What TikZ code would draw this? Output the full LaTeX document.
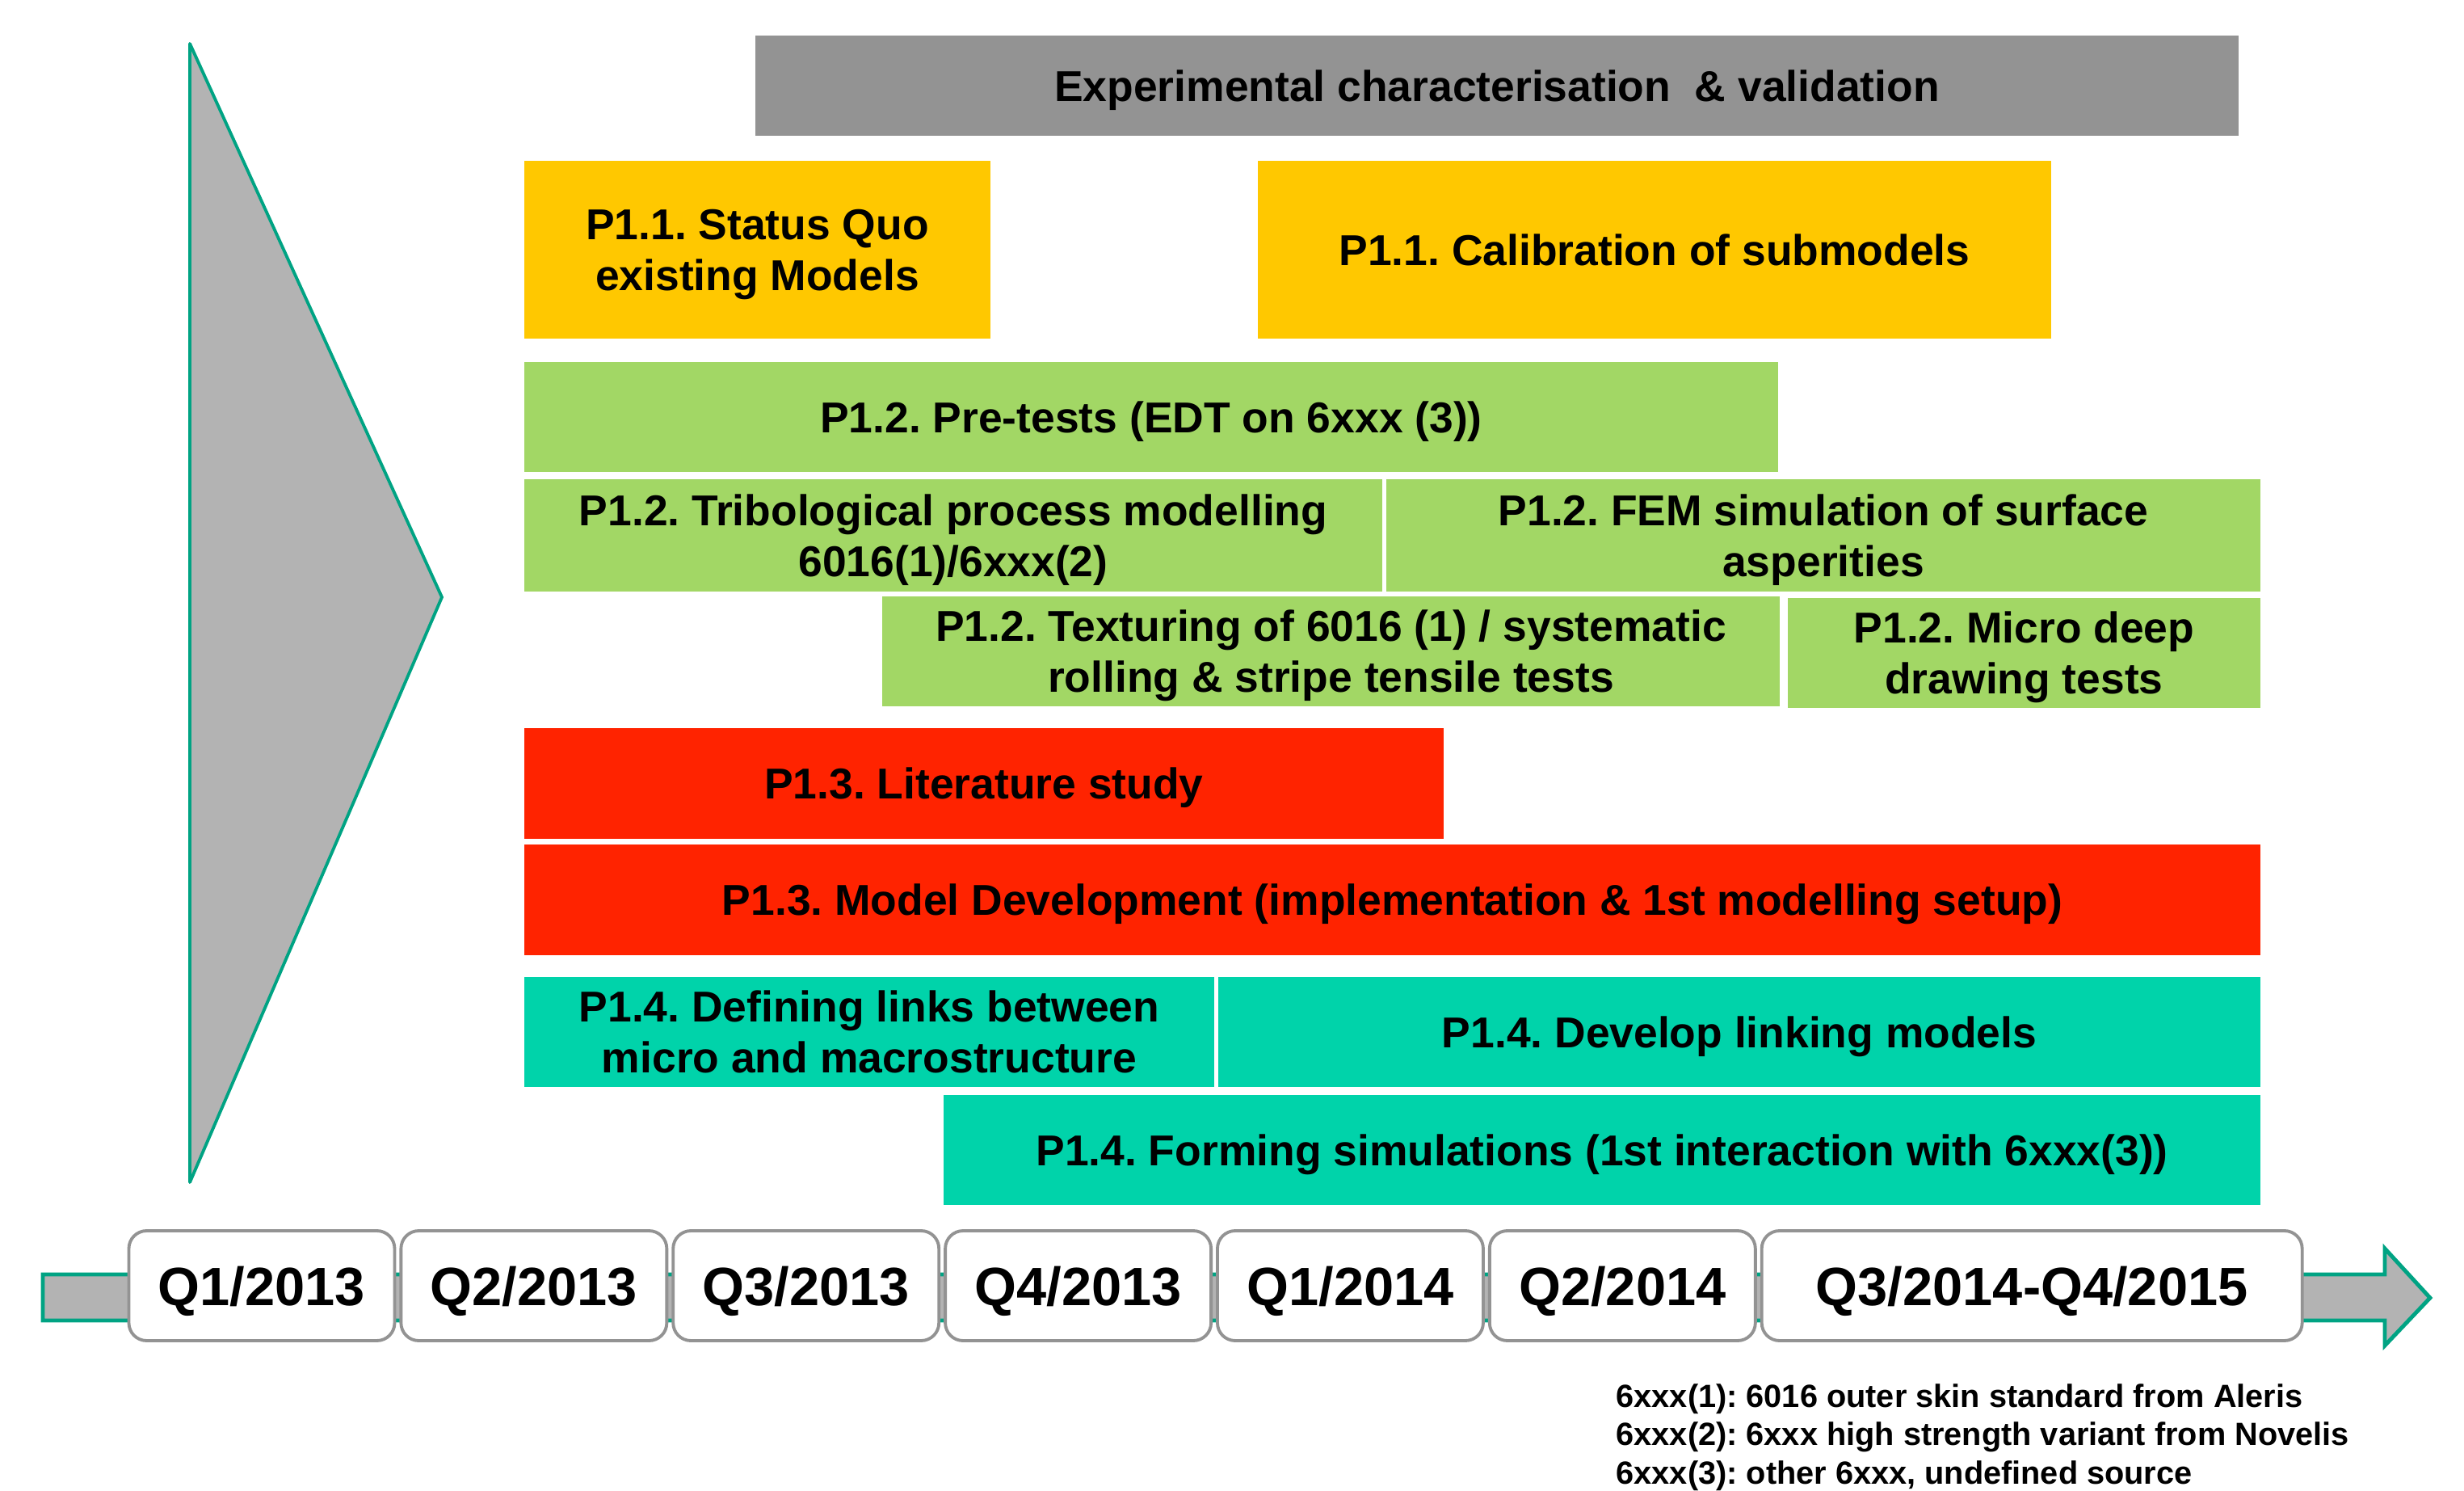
\documentclass[tikz,border=0pt]{standalone}
\usepackage{fontspec}
\setmainfont{Liberation Sans}
\frenchspacing
\usetikzlibrary{positioning}
\definecolor{barGrey}{HTML}{939393}
\definecolor{taskYellow}{HTML}{FFC800}
\definecolor{taskGreen}{HTML}{A2D765}
\definecolor{taskRed}{HTML}{FF2300}
\definecolor{taskTeal}{HTML}{00D3AA}
\definecolor{arrowGrey}{HTML}{B3B3B3}
\definecolor{edgeTeal}{HTML}{00A383}
\begin{document}
\begin{tikzpicture}[
    task/.style={rectangle,draw=white,line width=0.8pt,inner sep=0pt,align=center,text depth=-6.2pt,
      font=\fontsize{15.2}{18}\selectfont\bfseries},
    quarter/.style={rectangle,rounded corners=0.22cm,draw=barGrey,line width=1.1pt,fill=white,
      minimum width=3.29cm,minimum height=1.36cm,inner sep=0pt,text depth=-8.7pt,
      font=\fontsize{19}{22}\selectfont\bfseries}
  ]
    \useasboundingbox (0,0) rectangle (30.5,-18.45);
    \draw[edgeTeal,fill=arrowGrey,line width=1.1pt,line join=round]
      (2.35,-0.54) -- (5.47,-7.39) -- (2.35,-14.63) -- cycle;
    \draw[edgeTeal,fill=arrowGrey,line width=1.4pt]
      (0.53,-15.77) -- (29.52,-15.77) -- (29.52,-15.45) -- (30.08,-16.06)
      -- (29.52,-16.65) -- (29.52,-16.34) -- (0.53,-16.34) -- cycle;
    \node[task,fill=barGrey,minimum width=18.38cm,minimum height=1.26cm] (expval) at (18.53,-1.06)
      {Experimental characterisation \ \& validation};
    \node[task,fill=taskYellow,minimum width=5.79cm,minimum height=2.22cm] (status) at (9.375,-3.09)
      {P1.1. Status Quo\\existing Models};
    \node[task,fill=taskYellow,minimum width=9.84cm,minimum height=2.22cm] (calib) at (20.48,-3.09)
      {P1.1. Calibration of submodels};
    \node[task,fill=taskGreen,minimum width=15.54cm,minimum height=1.38cm] (pretest) at (14.25,-5.16)
      {P1.2. Pre-tests (EDT on 6xxx (3))};
    \node[task,fill=taskGreen,minimum width=10.64cm,minimum height=1.41cm] (tribo) at (11.80,-6.625)
      {P1.2. Tribological process modelling\\6016(1)/6xxx(2)};
    \node[task,fill=taskGreen,minimum width=10.84cm,minimum height=1.41cm] (fem) at (22.57,-6.625)
      {P1.2. FEM simulation of surface\\asperities};
    \node[task,fill=taskGreen,minimum width=11.13cm,minimum height=1.38cm] (textur) at (16.475,-8.06)
      {P1.2. Texturing of 6016 (1) / systematic\\rolling \& stripe tensile tests};
    \node[task,fill=taskGreen,minimum width=5.87cm,minimum height=1.38cm] (micro) at (25.055,-8.08)
      {P1.2. Micro deep\\drawing tests};
    \node[task,fill=taskRed,minimum width=11.40cm,minimum height=1.39cm] (litstudy) at (12.18,-9.695)
      {P1.3. Literature study};
    \node[task,fill=taskRed,minimum width=21.51cm,minimum height=1.39cm] (modeldev) at (17.235,-11.135)
      {P1.3. Model Development (implementation \& 1st modelling setup)};
    \node[task,fill=taskTeal,minimum width=8.56cm,minimum height=1.38cm] (deflinks) at (10.76,-12.77)
      {P1.4. Defining links between\\micro and macrostructure};
    \node[task,fill=taskTeal,minimum width=12.92cm,minimum height=1.38cm] (devlink) at (21.53,-12.77)
      {P1.4. Develop linking models};
    \node[task,fill=taskTeal,minimum width=16.32cm,minimum height=1.38cm] (forming) at (19.83,-14.23)
      {P1.4. Forming simulations (1st interaction with 6xxx(3))};
    \node[quarter] (q1) at (3.24,-15.91) {Q1/2013};
    \node[quarter,right=0.04cm of q1] (q2) {Q2/2013};
    \node[quarter,right=0.04cm of q2] (q3) {Q3/2013};
    \node[quarter,right=0.04cm of q3] (q4) {Q4/2013};
    \node[quarter,right=0.04cm of q4] (q5) {Q1/2014};
    \node[quarter,right=0.04cm of q5] (q6) {Q2/2014};
    \node[quarter,right=0.04cm of q6,minimum width=6.69cm] (q7) {Q3/2014-Q4/2015};
    \node[anchor=base west,align=left,inner sep=0pt,font=\fontsize{11.3}{13.5}\selectfont\bfseries]
      (legend) at (20.0,-18.36)
      {6xxx(1): 6016 outer skin standard from Aleris\\
       6xxx(2): 6xxx high strength variant from Novelis\\
       6xxx(3): other 6xxx, undefined source};
\end{tikzpicture}
\end{document}
